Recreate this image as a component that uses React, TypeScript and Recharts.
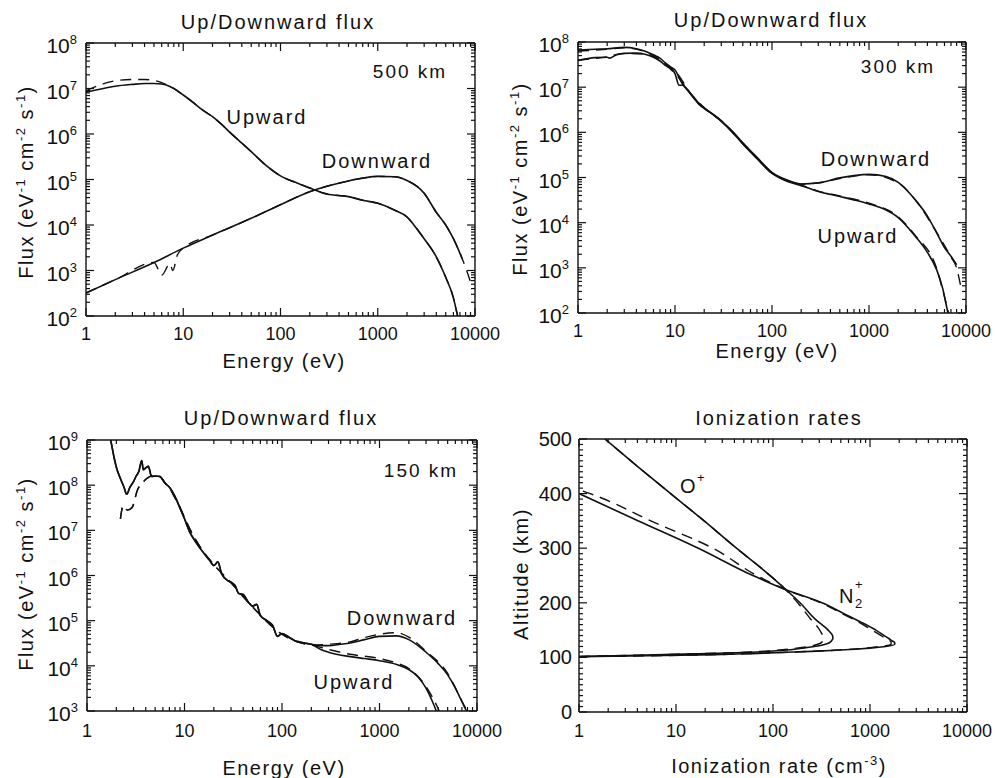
import React from 'react';
import { LineChart, Line, XAxis, YAxis } from 'recharts';

const FONT = '"Liberation Sans", Arial, Helvetica, sans-serif';
const INK = '#111';

// ---------- Panel 1 : 500 km ----------
const up500E = [1, 1.5, 2, 3, 4, 5, 6, 7, 8, 10, 13, 16, 20, 25, 30, 40, 50, 70, 100, 150, 200, 300, 500, 700, 1000, 1500, 2000, 2500, 3000, 4000, 5000, 6000, 6500, 7000];
const up500F = [8.3e6, 1.0e7, 1.12e7, 1.23e7, 1.29e7, 1.29e7, 1.26e7, 1.15e7, 1.0e7, 7.2e6, 4.7e6, 3.3e6, 2.4e6, 1.6e6, 1.1e6, 6.3e5, 4.1e5, 2.1e5, 1.2e5, 8.3e4, 6.5e4, 4.8e4, 4.2e4, 3.5e4, 3.0e4, 2.1e4, 1.5e4, 8.5e3, 5.0e3, 2.0e3, 7.1e2, 2.5e2, 1.2e2, 6.3e1];
const up500DashLowE = [1, 1.5, 2, 3, 4, 5, 6, 7, 8];
const up500DashLowF = [8.9e6, 1.26e7, 1.48e7, 1.58e7, 1.58e7, 1.51e7, 1.35e7, 1.17e7, 1.0e7];
const down500E = [1, 2, 5, 10, 20, 50, 100, 200, 300, 500, 700, 1000, 1500, 2000, 3000, 4000, 5000, 6000, 7400];
const down500F = [3.2e2, 6.3e2, 1.5e3, 3.1e3, 6.0e3, 1.4e4, 2.8e4, 5.4e4, 7.1e4, 9.3e4, 1.07e5, 1.17e5, 1.15e5, 9.5e4, 5.0e4, 1.9e4, 1.0e4, 5.0e3, 1.8e3];
const down500DashE = [1, 2, 5, 6, 7.3, 7.8, 8.7, 10, 20, 50, 100, 200, 300, 500, 700, 1000, 1500, 2000, 3000, 4000, 5000, 6000, 7400, 8200, 9000];
const down500DashF = [3.2e2, 6.3e2, 1.5e3, 7.9e2, 1.4e3, 1.0e3, 2.2e3, 3.1e3, 6.0e3, 1.4e4, 2.8e4, 5.4e4, 7.1e4, 9.3e4, 1.07e5, 1.17e5, 1.15e5, 9.5e4, 5.0e4, 1.9e4, 1.0e4, 5.0e3, 1.8e3, 1.0e3, 5.6e2];

// ---------- Panel 2 : 300 km ----------
const down300E = [1, 1.5, 2, 3, 4, 5, 6, 7, 8, 9, 10, 12, 15, 18, 20, 30, 40, 50, 70, 100, 150, 200, 300, 500, 700, 1000, 1500, 2000, 3000, 4000, 5000, 6000, 7000, 8000];
const down300F = [6.6e7, 6.9e7, 7.1e7, 7.6e7, 7.1e7, 6.2e7, 5.2e7, 4.4e7, 3.4e7, 2.8e7, 2.4e7, 1.15e7, 6.6e6, 4.2e6, 3.5e6, 1.8e6, 1.0e6, 5.9e5, 2.8e5, 1.3e5, 8.5e4, 7.2e4, 7.6e4, 9.8e4, 1.1e5, 1.17e5, 1.05e5, 7.8e4, 3.2e4, 1.4e4, 5.9e3, 2.8e3, 1.8e3, 1.17e3];
const up300E = [1, 1.5, 2, 2.1, 2.5, 3, 4, 5, 6, 7, 8, 9, 10, 11, 12, 15, 18, 20, 30, 40, 50, 70, 100, 150, 200, 300, 500, 700, 1000, 1500, 2000, 3000, 4000, 5000, 5750, 6450, 7000];
const up300F = [3.9e7, 4.5e7, 4.6e7, 4.4e7, 5.2e7, 5.6e7, 5.7e7, 5.3e7, 4.6e7, 3.8e7, 3.0e7, 2.6e7, 2.0e7, 1.1e7, 1.1e7, 6.4e6, 4.0e6, 3.4e6, 1.75e6, 9.5e5, 5.5e5, 2.6e5, 1.23e5, 7.9e4, 6.6e4, 4.9e4, 3.8e4, 3.2e4, 2.6e4, 1.9e4, 1.3e4, 5.0e3, 2.2e3, 8.9e2, 3.5e2, 1.1e2, 5.0e1];
const down300DashE = [1, 2, 3, 5, 8, 10, 15, 20, 30, 50, 70, 100, 150, 200, 300, 500, 1000, 2000, 3000, 5000, 7000, 8000, 8800];
const down300DashF = [6.3e7, 6.9e7, 7.4e7, 6.0e7, 3.3e7, 2.3e7, 6.6e6, 3.5e6, 1.8e6, 5.6e5, 2.75e5, 1.26e5, 8.3e4, 7.1e4, 7.6e4, 9.5e4, 1.15e5, 7.6e4, 3.2e4, 6.0e3, 1.74e3, 1.0e3, 4.0e2];
const up300DashE = [1, 2, 3, 5, 8, 10, 15, 20, 30, 50, 70, 100, 150, 200, 300, 500, 1000, 2000, 3000, 5000, 5750, 6450, 7000];
const up300DashF = [4.0e7, 4.7e7, 5.6e7, 5.3e7, 3.1e7, 2.0e7, 6.5e6, 3.4e6, 1.8e6, 5.8e5, 2.75e5, 1.26e5, 8.1e4, 6.8e4, 5.0e4, 3.9e4, 2.7e4, 1.35e4, 5.2e3, 9.5e2, 3.2e2, 1.26e2, 6.3e1];

// ---------- Panel 3 : 150 km ----------
const low150E = [1.6, 1.75, 1.9, 2.0, 2.2, 2.4, 2.55, 2.75, 3.0, 3.2, 3.4, 3.64, 3.78, 4.0, 4.26, 4.6, 5.0, 5.6, 6.3, 7.1, 8.0, 9.0, 10, 11.4, 13, 15, 18, 20, 22, 24, 28, 30, 33, 36, 40, 45, 50, 55, 60, 70, 80, 90, 100, 120, 140, 150, 170, 200];
const low150F = [2.5e9, 1.0e9, 4.0e8, 2.5e8, 1.4e8, 8.9e7, 6.3e7, 8.9e7, 1.2e8, 1.6e8, 2.0e8, 3.5e8, 2.2e8, 2.4e8, 2.6e8, 1.55e8, 1.6e8, 1.55e8, 1.12e8, 8.7e7, 5.6e7, 3.1e7, 1.8e7, 8.9e6, 5.6e6, 3.6e6, 2.2e6, 1.66e6, 2.0e6, 1.1e6, 7.6e5, 7.1e5, 6.0e5, 4.0e5, 3.8e5, 2.6e5, 2.1e5, 2.3e5, 1.3e5, 1.0e5, 7.9e4, 4.5e4, 5.2e4, 4.2e4, 3.5e4, 3.4e4, 3.2e4, 3.0e4];
const down150TailE = [250, 300, 400, 500, 700, 1000, 1500, 2000, 3000, 4000, 5000, 6000, 6600, 7000, 7800, 8500];
const down150TailF = [2.8e4, 2.8e4, 3.0e4, 3.2e4, 3.8e4, 4.5e4, 4.6e4, 3.8e4, 2.0e4, 1.12e4, 6.3e3, 3.2e3, 2.1e3, 1.6e3, 1.0e3, 6.3e2];
const up150TailE = [250, 300, 500, 700, 1000, 1500, 2000, 2500, 3000, 3500, 3900, 4300];
const up150TailF = [2.3e4, 2.0e4, 1.6e4, 1.45e4, 1.3e4, 1.07e4, 8.3e3, 5.6e3, 3.2e3, 1.6e3, 8.9e2, 5.0e2];
const dashLow150E = [2.2, 2.35, 2.6, 2.9, 3.3, 3.7, 4.1, 4.6, 5.2, 5.6, 6.3, 7.1, 8, 9, 10, 15, 20, 30, 50, 100, 150, 200];
const dashLow150F = [1.8e7, 3.5e7, 2.8e7, 3.2e7, 7.9e7, 1.12e8, 1.4e8, 1.6e8, 1.6e8, 1.55e8, 1.12e8, 8.3e7, 5.2e7, 3.2e7, 1.9e7, 3.8e6, 1.74e6, 6.9e5, 2.0e5, 5.0e4, 3.3e4, 2.9e4];
const dashDown150TailE = [300, 500, 700, 1000, 1500, 2000, 3000, 5000, 7000, 8000, 9000];
const dashDown150TailF = [3.0e4, 3.4e4, 4.2e4, 5.0e4, 5.4e4, 4.3e4, 2.1e4, 6.8e3, 1.66e3, 9.5e2, 5.6e2];
const dashUp150TailE = [300, 500, 1000, 1500, 2000, 3000, 3500, 4000, 4500];
const dashUp150TailF = [2.3e4, 1.8e4, 1.45e4, 1.15e4, 8.7e3, 3.5e3, 2.0e3, 1.12e3, 6.3e2];

// ---------- Panel 4 : ionization rates ----------
const oPlusAlt = [101.5, 104, 106, 108, 110, 113, 117, 121, 125, 130, 136, 142, 150, 170, 200, 230, 260, 300, 350, 400, 450, 500];
const oPlusRate = [1, 4, 12, 35, 70, 130, 200, 290, 360, 400, 415, 405, 370, 272, 190, 125, 80, 42, 19.5, 8.8, 4.0, 1.85];
const oPlusDashAlt = [101.5, 104, 106, 108, 110, 113, 117, 121, 125, 130, 137, 145, 155, 170, 200, 230, 260, 300, 350, 400, 450, 500];
const oPlusDashRate = [1, 4, 11, 30, 60, 110, 175, 250, 300, 325, 330, 315, 290, 245, 180, 125, 80, 42, 19.5, 8.8, 4.0, 1.85];
const n2PlusAlt = [101.5, 103, 105, 107, 109, 111, 113, 115, 117, 120, 124, 127, 130, 135, 140, 150, 165, 180, 200, 223, 250, 300, 350, 400];
const n2PlusRate = [1, 5, 25, 60, 120, 250, 450, 700, 1000, 1450, 1800, 1800, 1700, 1550, 1400, 1150, 800, 540, 320, 140, 62, 17, 4.1, 1];
const n2PlusDashAlt = [101.5, 103, 105, 107, 109, 111, 113, 115, 118, 121, 124, 128, 133, 140, 150, 165, 180, 200, 223, 250, 300, 350, 400, 407];
const n2PlusDashRate = [1, 5, 25, 60, 120, 240, 420, 650, 1000, 1400, 1650, 1650, 1500, 1300, 1050, 760, 520, 310, 140, 68, 24, 5.5, 1.3, 1];

const xTickLabels = ['1', '10', '100', '1000', '10000'];

// ---------- helpers ----------
const zip = (es: number[], fs: number[]) => es.map((e, i) => ({ e, f: fs[i] }));
const zipAlt = (alts: number[], rates: number[]) => alts.map((alt, i) => ({ alt, r: rates[i] }));

const logTicks = (lo: number, hi: number) => {
  const t: number[] = [];
  for (let k = lo; k <= hi; k++) {
    for (let m = 1; m <= 9; m++) {
      if (k === hi && m > 1) break;
      t.push(m * Math.pow(10, k));
    }
  }
  return t;
};
const isMajor = (v: number) => {
  const l = Math.log10(v);
  return Math.abs(l - Math.round(l)) < 1e-6;
};

const xTicks = logTicks(0, 4);
const altTicks: number[] = [];
for (let a = 0; a <= 500; a += 10) altTicks.push(a);

const MAJ = 8;
const MIN = 4;
const TW = 1.2;

const bottomTick = (labelDy: number) => (p: any) => {
  const { x, y, payload } = p;
  const v = payload.value;
  const maj = isMajor(v);
  const idx = Math.round(Math.log10(v));
  return (
    <g>
      <line x1={x} x2={x} y1={y} y2={y - (maj ? MAJ : MIN)} stroke={INK} strokeWidth={TW} />
      {maj && (
        <text x={x} y={y + labelDy} textAnchor="middle" fontSize={18} fontFamily={FONT} fill={INK}>
          {xTickLabels[idx]}
        </text>
      )}
    </g>
  );
};
const topTickLog = (p: any) => {
  const { x, y, payload } = p;
  const maj = isMajor(payload.value);
  return <line x1={x} x2={x} y1={y} y2={y + (maj ? MAJ : MIN)} stroke={INK} strokeWidth={TW} />;
};
const leftTickLog = (p: any) => {
  const { x, y, payload } = p;
  const v = payload.value;
  const maj = isMajor(v);
  const ex = Math.round(Math.log10(v));
  return (
    <g>
      <line x1={x} x2={x + (maj ? MAJ : MIN)} y1={y} y2={y} stroke={INK} strokeWidth={TW} />
      {maj && (
        <text x={x - 9} y={y + 10} textAnchor="end" fontSize={21} fontFamily={FONT} fill={INK}>
          10<tspan dy={-9} fontSize={13}>{String(ex)}</tspan>
        </text>
      )}
    </g>
  );
};
const rightTickLog = (p: any) => {
  const { x, y, payload } = p;
  const maj = isMajor(payload.value);
  return <line x1={x} x2={x - (maj ? MAJ : MIN)} y1={y} y2={y} stroke={INK} strokeWidth={TW} />;
};
const leftTickAlt = (p: any) => {
  const { x, y, payload } = p;
  const v = payload.value;
  const maj = v % 100 === 0;
  return (
    <g>
      <line x1={x} x2={x + (maj ? MAJ : MIN)} y1={y} y2={y} stroke={INK} strokeWidth={TW} />
      {maj && (
        <text x={x - 7} y={y + 7} textAnchor="end" fontSize={20} fontFamily={FONT} fill={INK}>
          {String(v)}
        </text>
      )}
    </g>
  );
};
const rightTickAlt = (p: any) => {
  const { x, y, payload } = p;
  const maj = payload.value % 100 === 0;
  return <line x1={x} x2={x - (maj ? MAJ : MIN)} y1={y} y2={y} stroke={INK} strokeWidth={TW} />;
};

const axisLine = { stroke: INK, strokeWidth: 1.4 };
const PAD_T = 12;
const PAD_R = 30;
const PAD_B = 40;
const M = { top: PAD_T - 1, right: PAD_R - 1, bottom: PAD_B - 1, left: 0 };
const YW = 92;

type Series = { data: any[]; dashed?: boolean };

function FluxPanel(props: { L: number; T: number; W: number; H: number; yLo: number; yHi: number; labelDy: number; series: Series[] }) {
  const { L, T, W, H, yLo, yHi, labelDy, series } = props;
  const yTicks = logTicks(yLo, yHi);
  return (
    <div style={{ position: 'absolute', left: L - YW, top: T - PAD_T }}>
      <LineChart width={W + YW + PAD_R} height={H + PAD_T + PAD_B} margin={M}>
        <XAxis xAxisId="b" type="number" dataKey="e" scale="log" domain={[1, 10000]} allowDataOverflow ticks={xTicks} interval={0}
          tick={bottomTick(labelDy)} tickLine={false} tickSize={0} tickMargin={0} height={1} axisLine={axisLine} />
        <XAxis xAxisId="t" orientation="top" type="number" dataKey="e" scale="log" domain={[1, 10000]} allowDataOverflow ticks={xTicks} interval={0}
          tick={topTickLog} tickLine={false} tickSize={0} tickMargin={0} height={1} axisLine={axisLine} />
        <YAxis yAxisId="l" type="number" scale="log" domain={[Math.pow(10, yLo), Math.pow(10, yHi)]} allowDataOverflow ticks={yTicks} interval={0}
          tick={leftTickLog} tickLine={false} tickSize={0} tickMargin={0} width={YW} axisLine={axisLine} />
        <YAxis yAxisId="r" orientation="right" type="number" scale="log" domain={[Math.pow(10, yLo), Math.pow(10, yHi)]} allowDataOverflow ticks={yTicks} interval={0}
          tick={rightTickLog} tickLine={false} tickSize={0} tickMargin={0} width={1} axisLine={axisLine} />
        {series.map((s, i) => (
          <Line key={i} xAxisId="b" yAxisId="l" data={s.data} dataKey="f" type="monotone" stroke={INK} strokeWidth={s.dashed ? 1.4 : 1.6}
            strokeDasharray={s.dashed ? '11 7' : undefined} dot={false} activeDot={false} isAnimationActive={false} />
        ))}
      </LineChart>
    </div>
  );
}

function IonPanel(props: { L: number; T: number; W: number; H: number; series: Series[] }) {
  const { L, T, W, H, series } = props;
  return (
    <div style={{ position: 'absolute', left: L - YW, top: T - PAD_T }}>
      <LineChart layout="vertical" width={W + YW + PAD_R} height={H + PAD_T + PAD_B} margin={M}>
        <XAxis xAxisId="b" type="number" scale="log" domain={[1, 10000]} allowDataOverflow ticks={xTicks} interval={0}
          tick={bottomTick(25)} tickLine={false} tickSize={0} tickMargin={0} height={1} axisLine={axisLine} />
        <XAxis xAxisId="t" orientation="top" type="number" scale="log" domain={[1, 10000]} allowDataOverflow ticks={xTicks} interval={0}
          tick={topTickLog} tickLine={false} tickSize={0} tickMargin={0} height={1} axisLine={axisLine} />
        <YAxis yAxisId="l" type="number" dataKey="alt" domain={[0, 500]} reversed allowDataOverflow ticks={altTicks} interval={0}
          tick={leftTickAlt} tickLine={false} tickSize={0} tickMargin={0} width={YW} axisLine={axisLine} />
        <YAxis yAxisId="r" orientation="right" type="number" dataKey="alt" domain={[0, 500]} reversed allowDataOverflow ticks={altTicks} interval={0}
          tick={rightTickAlt} tickLine={false} tickSize={0} tickMargin={0} width={1} axisLine={axisLine} />
        {series.map((s, i) => (
          <Line key={i} xAxisId="b" yAxisId="l" data={s.data} dataKey="r" type="monotone" stroke={INK} strokeWidth={s.dashed ? 1.4 : 1.6}
            strokeDasharray={s.dashed ? '11 7' : undefined} dot={false} activeDot={false} isAnimationActive={false} />
        ))}
      </LineChart>
    </div>
  );
}

const p1Series: Series[] = [
  { data: zip(down500DashE, down500DashF), dashed: true },
  { data: zip(up500DashLowE.concat(up500E.slice(9)), up500DashLowF.concat(up500F.slice(9))), dashed: true },
  { data: zip(up500E, up500F) },
  { data: zip(down500E, down500F) },
];
const p2Series: Series[] = [
  { data: zip(down300DashE, down300DashF), dashed: true },
  { data: zip(up300DashE, up300DashF), dashed: true },
  { data: zip(down300E, down300F) },
  { data: zip(up300E, up300F) },
];
const p3Series: Series[] = [
  { data: zip(dashLow150E.concat(dashDown150TailE), dashLow150F.concat(dashDown150TailF)), dashed: true },
  { data: zip(dashLow150E.concat(dashUp150TailE), dashLow150F.concat(dashUp150TailF)), dashed: true },
  { data: zip(low150E.concat(down150TailE), low150F.concat(down150TailF)) },
  { data: zip(low150E.concat(up150TailE), low150F.concat(up150TailF)) },
];
const p4Series: Series[] = [
  { data: zipAlt(oPlusDashAlt, oPlusDashRate), dashed: true },
  { data: zipAlt(n2PlusDashAlt, n2PlusDashRate), dashed: true },
  { data: zipAlt(oPlusAlt, oPlusRate) },
  { data: zipAlt(n2PlusAlt, n2PlusRate) },
];

const T20 = { fontSize: 20, fontFamily: FONT, fill: INK, letterSpacing: 2 } as const;

function FluxTitle({ x, y }: { x: number; y: number }) {
  return (
    <text transform={`translate(${x},${y}) rotate(-90)`} textAnchor="middle" {...T20} letterSpacing={1.5}>
      Flux (eV<tspan dy={-8} fontSize={13}>-1</tspan>
      <tspan dy={8}> cm</tspan>
      <tspan dy={-8} fontSize={13}>-2</tspan>
      <tspan dy={8}> s</tspan>
      <tspan dy={-8} fontSize={13}>-1</tspan>
      <tspan dy={8}>)</tspan>
    </text>
  );
}

export default function App() {
  return (
    <div style={{ position: 'absolute', left: 0, top: 0, width: 995, height: 778, background: '#fff', overflow: 'hidden' }}>
      <FluxPanel L={86} T={43} W={389} H={273} yLo={2} yHi={8} labelDy={24} series={p1Series} />
      <FluxPanel L={578} T={42} W={388} H={271} yLo={2} yHi={8} labelDy={24} series={p2Series} />
      <FluxPanel L={87} T={440} W={390} H={271} yLo={3} yHi={9} labelDy={26} series={p3Series} />
      <IonPanel L={579} T={439} W={388} H={273} series={p4Series} />
      <svg width={995} height={778} style={{ position: 'absolute', left: 0, top: 0, pointerEvents: 'none' }}>
        <text x={278} y={29} textAnchor="middle" {...T20}>Up/Downward flux</text>
        <text x={771} y={27} textAnchor="middle" {...T20}>Up/Downward flux</text>
        <text x={281} y={425} textAnchor="middle" {...T20}>Up/Downward flux</text>
        <text x={779} y={425} textAnchor="middle" {...T20}>Ionization rates</text>
        <text x={284} y={368} textAnchor="middle" {...T20} letterSpacing={1.5}>Energy (eV)</text>
        <text x={777} y={358} textAnchor="middle" {...T20} letterSpacing={1.5}>Energy (eV)</text>
        <text x={284} y={775} textAnchor="middle" {...T20} letterSpacing={1.5}>Energy (eV)</text>
        <text x={779} y={773} textAnchor="middle" {...T20} letterSpacing={1.5}>
          Ionization rate (cm<tspan dy={-8} fontSize={13}>-3</tspan><tspan dy={8}>)</tspan>
        </text>
        <FluxTitle x={33} y={182} />
        <FluxTitle x={527} y={179} />
        <FluxTitle x={33} y={574} />
        <text transform="translate(528,574) rotate(-90)" textAnchor="middle" {...T20} letterSpacing={1.5}>Altitude (km)</text>
        <text x={410} y={78} textAnchor="middle" {...T20} fontSize={19}>500 km</text>
        <text x={267} y={124} textAnchor="middle" {...T20}>Upward</text>
        <text x={377} y={168} textAnchor="middle" {...T20}>Downward</text>
        <text x={898} y={73} textAnchor="middle" {...T20} fontSize={19}>300 km</text>
        <text x={876} y={166} textAnchor="middle" {...T20}>Downward</text>
        <text x={858} y={243} textAnchor="middle" {...T20}>Upward</text>
        <text x={421} y={477} textAnchor="middle" {...T20} fontSize={19}>150 km</text>
        <text x={402} y={625} textAnchor="middle" {...T20}>Downward</text>
        <text x={354} y={689} textAnchor="middle" {...T20}>Upward</text>
        <text x={680} y={493} {...T20} letterSpacing={0}>O</text>
        <text x={697} y={482} {...T20} letterSpacing={0} fontSize={13}>+</text>
        <text x={839} y={603} {...T20} letterSpacing={0}>N</text>
        <text x={855} y={608} {...T20} letterSpacing={0} fontSize={13}>2</text>
        <text x={855} y={589} {...T20} letterSpacing={0} fontSize={13}>+</text>
      </svg>
    </div>
  );
}
